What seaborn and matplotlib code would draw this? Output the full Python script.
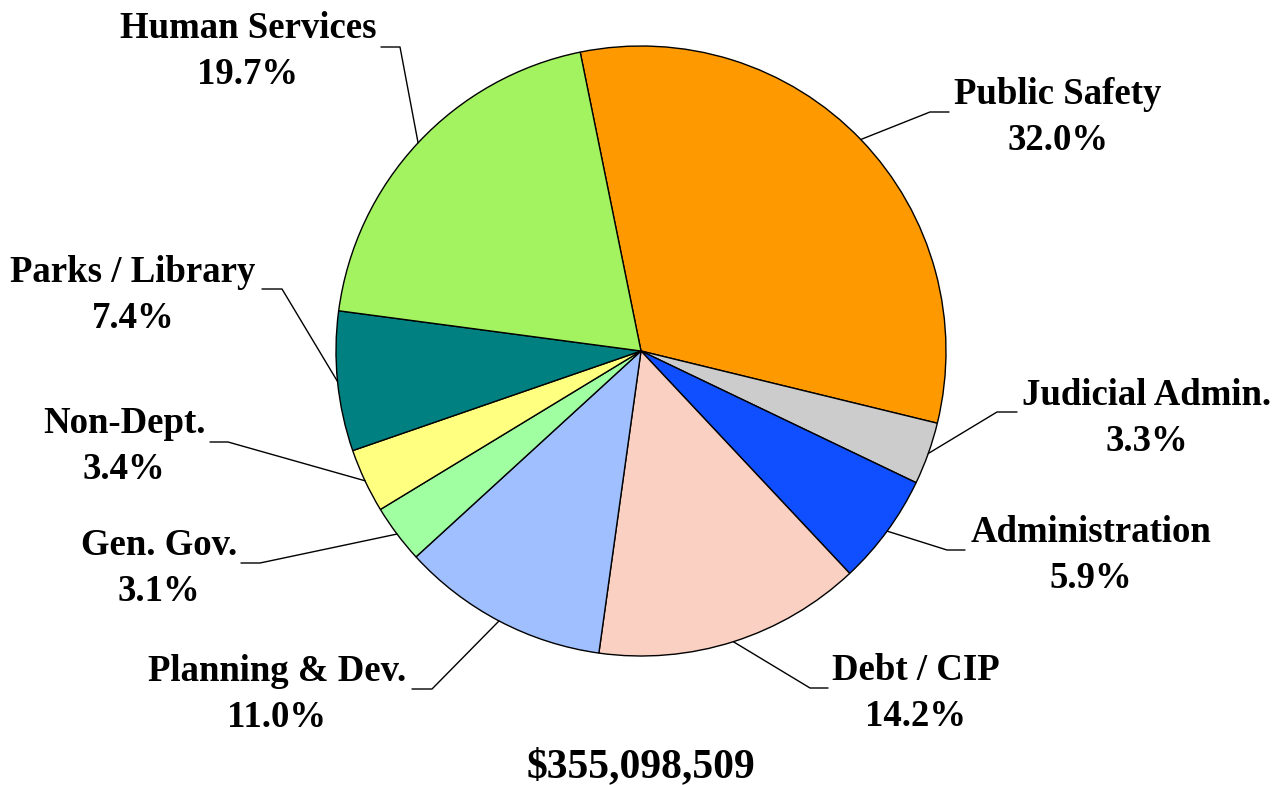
import numpy as np
import matplotlib
matplotlib.use("Agg")
import matplotlib.pyplot as plt
import seaborn as sns

# =============================================================================
# DATA
# =============================================================================
departments = ["Public Safety", "Judicial Admin.", "Administration", "Debt / CIP",
               "Planning & Dev.", "Gen. Gov.", "Non-Dept.", "Parks / Library",
               "Human Services"]
shares = [32.0, 3.3, 5.9, 14.2, 11.0, 3.1, 3.4, 7.4, 19.7]
slice_colors = ["#FF9900", "#CCCCCC", "#0F4FFF", "#FAD0C2", "#A0BFFF",
                "#A0FFA0", "#FFFF80", "#008080", "#A3F260"]
total_budget = "$355,098,509"

# label layout in pixel coords: text center x, name baseline y,
# elbow x (pie side), elbow x (text side), elbow y
label_layout = {
    "Public Safety":   (1058, 104, 930, 949, 112),
    "Judicial Admin.": (1147, 405, 997, 1017, 412),
    "Administration":  (1091, 542, 947, 965, 550),
    "Debt / CIP":      (916, 680, 810, 828, 688),
    "Planning & Dev.": (277, 681, 432, 412, 689),
    "Gen. Gov.":       (159, 555, 260, 241, 563),
    "Non-Dept.":       (124, 433, 228, 210, 442),
    "Parks / Library": (133, 282, 282, 262, 289),
    "Human Services":  (248, 38, 400, 381, 47),
}

W, H = 1284, 785
CX, CY, R = 641, 351, 305

# =============================================================================
# PLOT
# =============================================================================
sns.set_style("white")
plt.rcParams["font.family"] = ["Liberation Serif", "DejaVu Serif"]
plt.rcParams["font.weight"] = "bold"
plt.rcParams["text.color"] = "black"

fig = plt.figure(figsize=(W / 100, H / 100), dpi=100)
ax = fig.add_axes([0, 0, 1, 1])

# y axis is inverted, so counterclockwise in data space reads clockwise on screen
wedges, _ = ax.pie(shares, colors=slice_colors, startangle=-101.5, counterclock=True,
                   center=(CX, CY), radius=R,
                   wedgeprops={"edgecolor": "black", "linewidth": 1.0})
ax.set_xlim(0, W)
ax.set_ylim(H, 0)
ax.set_aspect("equal")
ax.axis("off")

for wedge, name, share in zip(wedges, departments, shares):
    tx, ty, ex_in, ex_out, ey = label_layout[name]
    mid = np.deg2rad((wedge.theta1 + wedge.theta2) / 2)
    px, py = CX + R * np.cos(mid), CY + R * np.sin(mid)
    ax.plot([px, ex_in, ex_out], [py, ey, ey], color="black", lw=1.0)
    ax.text(tx, ty, name, ha="center", va="baseline", fontsize=26.5,
            fontweight="bold", color="black")
    ax.text(tx, ty + 46, f"{share:.1f}%", ha="center", va="baseline",
            fontsize=26.5, fontweight="bold", color="black")

ax.text(CX, 777, total_budget, ha="center", va="baseline", fontsize=30,
        fontweight="bold", color="black")

fig.savefig("out.png", dpi=100)
plt.close(fig)
